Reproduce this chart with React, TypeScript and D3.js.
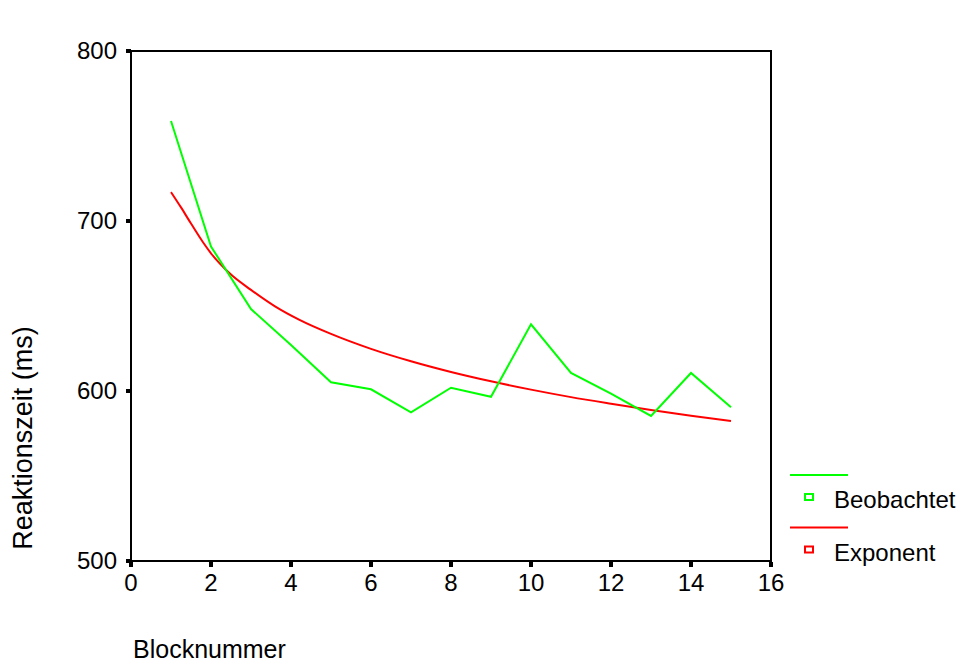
import { useEffect, useRef } from 'react';
import * as d3 from 'd3';

// Block numbers of the observed series
const blocks = [1, 2, 3, 4, 5, 6, 7, 8, 9, 10, 11, 12, 13, 14, 15];
// Observed reaction times (ms)
const observed = [758.8, 685, 648.2, 627, 605.1, 601, 587.5, 601.9, 596.6, 639.2, 610.6, 598.5, 585.3, 610.6, 590.4];

// Fitted curve
const fitX = [1, 1.25, 1.5, 1.8, 2, 2.5, 3, 3.6, 4.2, 5, 6, 7, 8, 9, 10, 11, 12, 13, 14, 15];
const fitY = [717, 708, 698.5, 687.5, 681, 668.5, 659.5, 649.8, 642, 633.6, 624.8, 617.5, 611.2, 605.7, 600.8, 596.4, 592.5, 588.8, 585.4, 582.4];

const xTicks = [0, 2, 4, 6, 8, 10, 12, 14, 16];
const yTicks = [500, 600, 700, 800];

const legendItems = [
  { label: 'Beobachtet', color: '#00ff00' },
  { label: 'Exponent', color: '#ff0000' },
];

const width = 964;
const height = 664;
const font = '"Liberation Sans", Arial, sans-serif';

const App = (): JSX.Element => {
  const svgRef = useRef<SVGSVGElement>(null);

  useEffect(() => {
    if (svgRef.current) {
      svgRef.current.innerHTML = '';
    }
    const left = 131;
    const right = 771;
    const top = 51;
    const bottom = 561;

    const x = d3.scaleLinear([0, 16], [left, right]);
    const y = d3.scaleLinear([500, 800], [bottom, top]);

    const svg = d3.select(svgRef.current).attr('width', width).attr('height', height).attr('viewBox', [0, 0, width, height]);

    svg.append('rect').attr('width', width).attr('height', height).attr('fill', '#fff');

    // frame
    svg
      .append('rect')
      .attr('x', left)
      .attr('y', top)
      .attr('width', right - left)
      .attr('height', bottom - top)
      .attr('fill', 'none')
      .attr('stroke', '#000')
      .attr('stroke-width', 2);

    // y ticks + labels
    const yg = svg.append('g');
    yTicks.forEach((t) => {
      yg.append('rect').attr('x', left - 5).attr('y', y(t) - 2).attr('width', 5).attr('height', 4).attr('fill', '#000');
      yg.append('text')
        .attr('x', left - 14)
        .attr('y', y(t))
        .attr('dy', '0.35em')
        .attr('text-anchor', 'end')
        .attr('font-family', font)
        .attr('font-size', 24)
        .text(t);
    });

    // x ticks + labels
    const xg = svg.append('g');
    xTicks.forEach((t) => {
      xg.append('rect').attr('x', x(t) - 2).attr('y', bottom + 1).attr('width', 4).attr('height', 5).attr('fill', '#000');
      xg.append('text')
        .attr('x', x(t))
        .attr('y', bottom + 30)
        .attr('text-anchor', 'middle')
        .attr('font-family', font)
        .attr('font-size', 24)
        .text(t);
    });

    // axis titles
    svg
      .append('text')
      .attr('transform', `translate(32,438) rotate(-90)`)
      .attr('text-anchor', 'middle')
      .attr('font-family', font)
      .attr('font-size', 27)
      .text('Reaktionszeit (ms)');

    svg
      .append('text')
      .attr('x', 133)
      .attr('y', 658)
      .attr('font-family', font)
      .attr('font-size', 25)
      .text('Blocknummer');

    // fitted curve
    const fitLine = d3
      .line<number>()
      .x((d, i) => x(fitX[i]))
      .y((d) => y(d))
      .curve(d3.curveMonotoneX);
    svg
      .append('path')
      .attr('fill', 'none')
      .attr('stroke', '#ff0000')
      .attr('stroke-width', 2)
      .attr('d', fitLine(fitY));

    // observed line
    const obsLine = d3
      .line<number>()
      .x((d, i) => x(blocks[i]))
      .y((d) => y(d));
    svg
      .append('path')
      .attr('fill', 'none')
      .attr('stroke', '#00ff00')
      .attr('stroke-width', 2)
      .attr('d', obsLine(observed));

    // legend
    const lg = svg.append('g');
    legendItems.forEach((item, i) => {
      const oy = 475 + i * 52.5;
      lg.append('line').attr('x1', 790).attr('x2', 848).attr('y1', oy).attr('y2', oy).attr('stroke', item.color).attr('stroke-width', 2);
      lg.append('rect')
        .attr('x', 805)
        .attr('y', oy + 19)
        .attr('width', 8)
        .attr('height', 6)
        .attr('fill', 'none')
        .attr('stroke', item.color)
        .attr('stroke-width', 2);
      lg.append('text')
        .attr('x', 834)
        .attr('y', oy + 33)
        .attr('font-family', font)
        .attr('font-size', 24)
        .text(item.label);
    });
  }, []);

  return (
    <div style={{ position: 'absolute', left: 0, top: 0 }}>
      <svg ref={svgRef} style={{ display: 'block' }} />
    </div>
  );
};

export default App;
